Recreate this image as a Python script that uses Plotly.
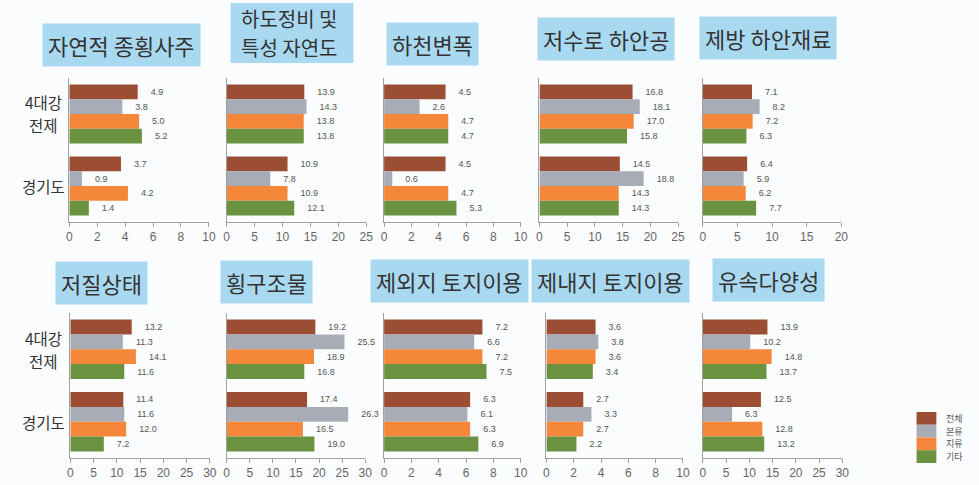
import plotly.graph_objects as go

# Categories and series
regions = ["4대강 전제", "경기도"]
series = ["전체", "본류", "지류", "기타"]
colors = ["#9b4e34", "#a8acb7", "#f4873a", "#6b9241"]

# Panel titles (lines of each title)
titles = [
    ["자연적 종횡사주"], ["하도정비 및", "특성 자연도"], ["하천변폭"], ["저수로 하안공"], ["제방 하안재료"],
    ["저질상태"], ["횡구조물"], ["제외지 토지이용"], ["제내지 토지이용"], ["유속다양성"],
]

# Values per panel: one list per series, [4대강 전체, 경기도]
sandbar = [[4.9, 3.7], [3.8, 0.9], [5.0, 4.2], [5.2, 1.4]]
channel = [[13.9, 10.9], [14.3, 7.8], [13.8, 10.9], [13.8, 12.1]]
width_var = [[4.5, 4.5], [2.6, 0.6], [4.7, 4.7], [4.7, 5.3]]
bank_works = [[16.8, 14.5], [18.1, 18.8], [17.0, 14.3], [15.8, 14.3]]
levee = [[7.1, 6.4], [8.2, 5.9], [7.2, 6.2], [6.3, 7.7]]
substrate = [[13.2, 11.4], [11.3, 11.6], [14.1, 12.0], [11.6, 7.2]]
weirs = [[19.2, 17.4], [25.5, 26.3], [18.9, 16.5], [16.8, 19.0]]
floodplain_use = [[7.2, 6.3], [6.6, 6.1], [7.2, 6.3], [7.5, 6.9]]
landside_use = [[3.6, 2.7], [3.8, 3.3], [3.6, 2.7], [3.4, 2.2]]
flow_diversity = [[13.9, 12.5], [10.2, 6.3], [14.8, 12.8], [13.7, 13.2]]

panels = [sandbar, channel, width_var, bank_works, levee,
          substrate, weirs, floodplain_use, landside_use, flow_diversity]

# Axis extents and tick steps
x_max = [10, 25, 10, 25, 20, 30, 30, 10, 10, 30]
x_step = [2, 5, 2, 5, 5, 5, 5, 2, 2, 5]

W, H = 979, 485

# Plot-area boxes in pixels (left, right, top, bottom)
boxes = [
    (67, 208, 78, 222), (226, 367, 78, 222), (385, 523, 78, 222),
    (542, 682, 78, 222), (707, 847, 78, 222),
    (68, 209, 313, 458), (226, 366, 313, 458), (385, 523, 313, 458),
    (549, 687, 313, 458), (707, 848, 313, 458),
]

# Title centres in pixels
title_pos = [
    (120, 45), (292, 33), (434, 44), (609, 39), (773, 38),
    (100, 283), (266, 282), (451, 281), (614, 281), (773, 280),
]

TITLE_BG = "#a9d8f1"

fig = go.Figure()
layout = dict(
    width=W, height=H, autosize=False,
    margin=dict(l=0, r=0, t=0, b=0),
    paper_bgcolor="#fbfcfd", plot_bgcolor="rgba(0,0,0,0)",
    barmode="group", bargap=0.18, bargroupgap=0.0,
    font=dict(family="Noto Sans CJK KR, Noto Sans, sans-serif", color="#444"),
    showlegend=False,
)

annotations = []
shapes = []
for p, data in enumerate(panels):
    n = p + 1
    xa = "x" if n == 1 else f"x{n}"
    ya = "y" if n == 1 else f"y{n}"
    l, r, t, b = boxes[p]
    for s, name in enumerate(series):
        vals = data[s]
        fig.add_trace(go.Bar(
            x=vals, y=regions, orientation="h", name=name,
            marker=dict(color=colors[s], line=dict(width=0)),
            text=["\u00a0\u00a0\u00a0\u00a0" + f"{v:.1f}" for v in vals],
            textposition="outside", cliponaxis=False,
            textfont=dict(size=9, color="#555", family="Liberation Sans, Arial"),
            xaxis=xa, yaxis=ya,
        ))
    layout[f"xaxis{'' if n == 1 else n}"] = dict(
        domain=[l / W, r / W], anchor=ya, range=[0, x_max[p]],
        dtick=x_step[p], tick0=0, showgrid=False, zeroline=False,
        showline=True, linecolor="#a0a0a0", linewidth=1,
        ticks="outside", ticklen=4, tickcolor="#a0a0a0",
        tickfont=dict(size=12, color="#666", family="Liberation Sans, Arial"),
    )
    layout[f"yaxis{'' if n == 1 else n}"] = dict(
        domain=[(H - b) / H, (H - t) / H], anchor=xa,
        autorange="reversed", showgrid=False, zeroline=False,
        showline=True, linecolor="#a0a0a0", linewidth=1, ticks="",
        showticklabels=False,
    )

    # Region names beside the first column, one text per line
    if p in (0, 5):
        for reg in regions:
            lines = reg.split(" ")
            step = 23
            for k, line in enumerate(lines):
                annotations.append(dict(
                    text=line, x=41 / W, xref="paper", xanchor="center",
                    y=reg, yref=ya, yanchor="middle",
                    yshift=-(k - (len(lines) - 1) / 2) * step,
                    showarrow=False,
                    font=dict(size=15.5, color="#333", family="Noto Sans CJK KR"),
                ))

    # Panel title on a light blue label
    cx, cy = title_pos[p]
    lines = titles[p]
    if len(lines) == 1:
        annotations.append(dict(
            text=lines[0], x=cx / W, y=(H - cy) / H, xref="paper", yref="paper",
            xanchor="center", yanchor="middle", showarrow=False,
            bgcolor=TITLE_BG, borderpad=5,
            font=dict(size=22, color="#333", family="Noto Sans CJK KR"),
        ))
    else:
        step = 29
        half_h = step * len(lines) / 2 + 1
        shapes.append(dict(
            type="rect", xref="paper", yref="paper", layer="below",
            x0=(cx - 62) / W, x1=(cx + 62) / W,
            y0=(H - cy - half_h) / H, y1=(H - cy + half_h) / H,
            fillcolor=TITLE_BG, line=dict(width=0),
        ))
        for k, line in enumerate(lines):
            ly = cy + (k - (len(lines) - 1) / 2) * step
            annotations.append(dict(
                text=line, x=(cx - 54) / W, y=(H - ly) / H, xref="paper", yref="paper",
                xanchor="left", yanchor="middle", showarrow=False,
                font=dict(size=20, color="#333", family="Noto Sans CJK KR"),
            ))

# Series key in the lower right corner
key_left, key_top, key_w, key_h = 923, 412, 20, 12.75
for s, name in enumerate(series):
    y0 = key_top + s * key_h
    shapes.append(dict(
        type="rect", xref="paper", yref="paper",
        x0=key_left / W, x1=(key_left + key_w) / W,
        y0=(H - y0 - key_h) / H, y1=(H - y0) / H,
        fillcolor=colors[s], line=dict(width=0),
    ))
    annotations.append(dict(
        text=name, x=(key_left + key_w + 8) / W, y=(H - y0 - key_h / 2) / H,
        xref="paper", yref="paper", xanchor="left", yanchor="middle",
        showarrow=False, font=dict(size=9, color="#555", family="Noto Sans CJK KR"),
    ))

layout["annotations"] = annotations
layout["shapes"] = shapes
fig.update_layout(**layout)
fig.write_html("out.html")
